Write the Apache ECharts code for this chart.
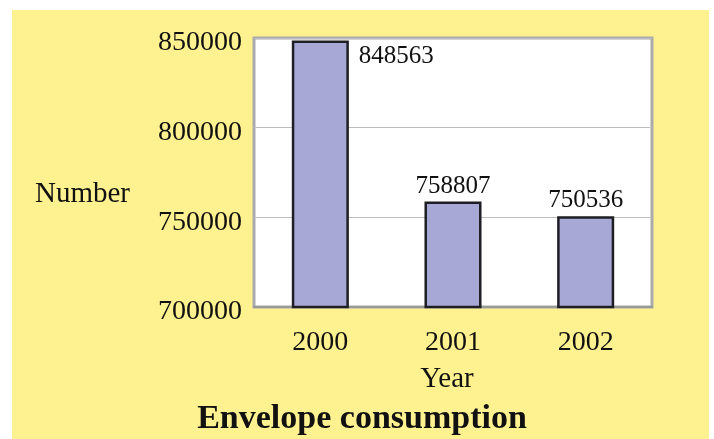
<!DOCTYPE html>
<html>
<head>
<meta charset="utf-8">
<script src="https://cdn.jsdelivr.net/npm/echarts@6/dist/echarts.min.js"></script>
<style>
  html, body { margin: 0; padding: 0; background: #fff; }
  #frame { position: absolute; left: 12px; top: 10px; width: 697px; height: 429px; background: #fef18f; }
  #main { position: absolute; left: 0; top: 0; width: 714px; height: 439px; }
</style>
</head>
<body>
<div id="frame"></div>
<div id="main"></div>
<script>
// 数据
const years = ['2000', '2001', '2002']
const envelopes = [848563, 758807, 750536]
const yTicks = [700000, 750000, 800000, 850000]

const serif = '"Liberation Serif", "DejaVu Serif", serif'
const chart = echarts.init(document.getElementById('main'))

const barData = envelopes.map((v, i) => {
  if (i === 0) {
    // first label sits beside the bar top
    return {
      value: v,
      label: { position: ['100%', 0], offset: [10, 3], align: 'left', verticalAlign: 'top' }
    }
  }
  return v
})

const option = {
  backgroundColor: 'transparent',
  title: [
    {
      text: 'Envelope consumption',
      left: 357, top: 397, textAlign: 'center',
      textStyle: { fontFamily: serif, fontWeight: 'bold', fontSize: 34, color: '#111' }
    },
    {
      text: 'Number',
      left: 30, top: 175,
      textStyle: { fontFamily: serif, fontWeight: 'normal', fontSize: 29, color: '#111' }
    },
    {
      text: 'Year',
      left: 442, top: 360, textAlign: 'center',
      textStyle: { fontFamily: serif, fontWeight: 'normal', fontSize: 29, color: '#111' }
    }
  ],
  grid: {
    left: 254, top: 38, width: 398, height: 269,
    show: true,
    backgroundColor: '#fff',
    borderColor: '#aaa',
    borderWidth: 3,
    containLabel: false
  },
  xAxis: {
    type: 'category',
    data: years,
    axisTick: { show: false },
    axisLine: { show: true, lineStyle: { color: '#999', width: 2 } },
    axisLabel: { fontFamily: serif, fontSize: 28, color: '#111', margin: 22 }
  },
  yAxis: {
    type: 'value',
    min: yTicks[0],
    max: yTicks[yTicks.length - 1],
    interval: 50000,
    axisLine: { show: false },
    axisTick: { show: false },
    axisLabel: {
      color: '#111', margin: 12,
      formatter: v => '{t|' + v + '}',
      rich: {
        t: { fontFamily: serif, fontSize: 28, color: '#111', padding: [10, 0, 0, 0] }
      }
    },
    splitLine: { show: true, lineStyle: { color: '#bdbdbd', width: 1 } }
  },
  series: [{
    type: 'bar',
    data: barData,
    barWidth: '43%',
    itemStyle: { color: '#a7a8d5', borderColor: '#1e1e24', borderWidth: 2.5 },
    label: {
      show: true,
      position: 'top',
      distance: 3,
      fontFamily: serif,
      fontSize: 25,
      color: '#111'
    }
  }]
}

chart.setOption(option)
window.addEventListener('resize', function () {
  chart.resize()
})
</script>
</body>
</html>
